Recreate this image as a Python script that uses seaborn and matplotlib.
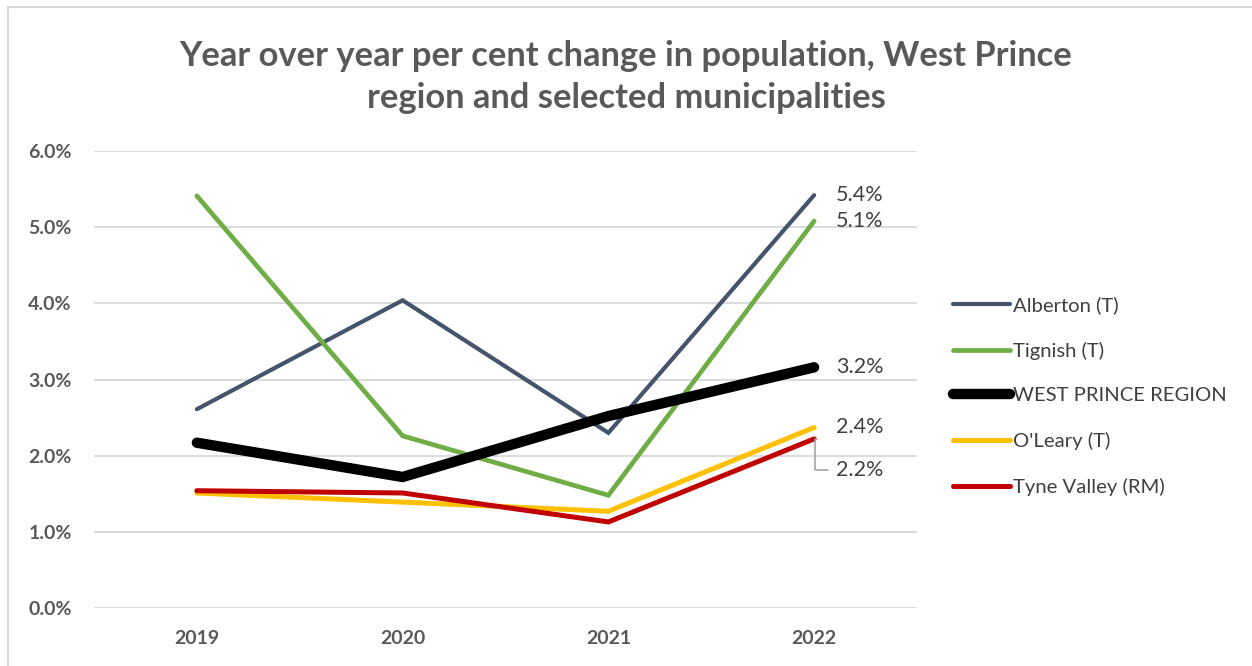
import matplotlib
matplotlib.use("Agg")
import matplotlib.pyplot as plt
import seaborn as sns
import pandas as pd
from matplotlib.lines import Line2D
from matplotlib.ticker import FuncFormatter

# Year-over-year population change (%) by area
years = ["2019", "2020", "2021", "2022"]
alberton = [2.61, 4.04, 2.30, 5.42]
tignish = [5.41, 2.26, 1.48, 5.08]
west_prince = [2.17, 1.72, 2.52, 3.16]
oleary = [1.51, 1.39, 1.27, 2.37]
tyne_valley = [1.54, 1.51, 1.13, 2.22]

series_names = ["Alberton (T)", "Tignish (T)", "WEST PRINCE REGION",
                "O'Leary (T)", "Tyne Valley (RM)"]
series_values = [alberton, tignish, west_prince, oleary, tyne_valley]
series_colors = ["#44546A", "#70AD47", "#000000", "#FFC000", "#C00000"]
series_widths = [3.0, 3.4, 7.5, 3.6, 3.6]

sns.set_theme(style="white")
plt.rcParams["font.family"] = ["Lato", "DejaVu Sans"]

W, H = 1252, 666
fig = plt.figure(figsize=(W / 100, H / 100), dpi=100)
ax = fig.add_axes([94 / W, 58 / H, 823 / W, 457 / H])

frames = []
for name, vals in zip(series_names, series_values):
    frames.append(pd.DataFrame({"pos": range(len(years)), "value": vals, "area": name}))
df = pd.concat(frames, ignore_index=True)

for name, color, lw in zip(series_names, series_colors, series_widths):
    sub = df[df["area"] == name]
    sns.lineplot(data=sub, x="pos", y="value", ax=ax, color=color, linewidth=lw,
                 solid_capstyle="round", solid_joinstyle="miter", legend=False)

ax.set_xlim(-0.5, 3.5)
ax.set_ylim(0, 6.0)
ax.set_yticks([0, 1, 2, 3, 4, 5, 6])
ax.yaxis.set_major_formatter(FuncFormatter(lambda v, _: f"{v:.1f}%"))
ax.set_xticks(range(len(years)))
ax.set_xticklabels(years)
ax.set_xlabel("")
ax.set_ylabel("")
ax.grid(axis="y", color="#D9D9D9", linewidth=1.3)
ax.set_axisbelow(True)
for s in ax.spines.values():
    s.set_visible(False)
ax.tick_params(axis="both", length=0, labelsize=14, labelcolor="#595959")
ax.tick_params(axis="y", pad=16)
ax.tick_params(axis="x", pad=16)
for lbl in ax.get_xticklabels() + ax.get_yticklabels():
    lbl.set_fontweight("bold")

# Value labels at the final year
last = len(years) - 1
label_offsets = [0.0, 0.0, 0.0, 0.0, -0.41]
for vals, dy in zip(series_values, label_offsets):
    ax.text(last + 0.105, vals[last] + dy, f"{vals[last]:.1f}%", fontsize=15.5,
            color="#404040", va="center", ha="left")
# Leader line for the displaced Tyne Valley label
ax.plot([last + 0.005, last + 0.005, last + 0.068],
        [tyne_valley[last], tyne_valley[last] - 0.41, tyne_valley[last] - 0.41],
        color="#A6A6A6", linewidth=1.2)

fig.text(0.5, 1 - 77 / H,
         "Year over year per cent change in population, West Prince\nregion and selected municipalities",
         ha="center", va="center", fontsize=24.8, fontweight="bold", color="#595959",
         linespacing=1.38)

handles = [Line2D([0], [0], color=c, linewidth=lw, solid_capstyle="round")
           for c, lw in zip(series_colors, series_widths)]
fig.legend(handles, series_names, loc="upper left", bbox_to_anchor=(945 / W, 1 - 288 / H),
           frameon=False, fontsize=14.6, labelcolor="#404040", handlelength=2.8,
           handletextpad=0.15, labelspacing=1.36, borderaxespad=0)

# Outer chart frame (top and left edges)
fig.add_artist(Line2D([8 / W, 1.0], [1 - 7 / H, 1 - 7 / H], color="#D9D9D9",
                      linewidth=1.5, transform=fig.transFigure))
fig.add_artist(Line2D([8 / W, 8 / W], [0.0, 1 - 7 / H], color="#D9D9D9",
                      linewidth=1.5, transform=fig.transFigure))

fig.savefig("out.png", dpi=100)
